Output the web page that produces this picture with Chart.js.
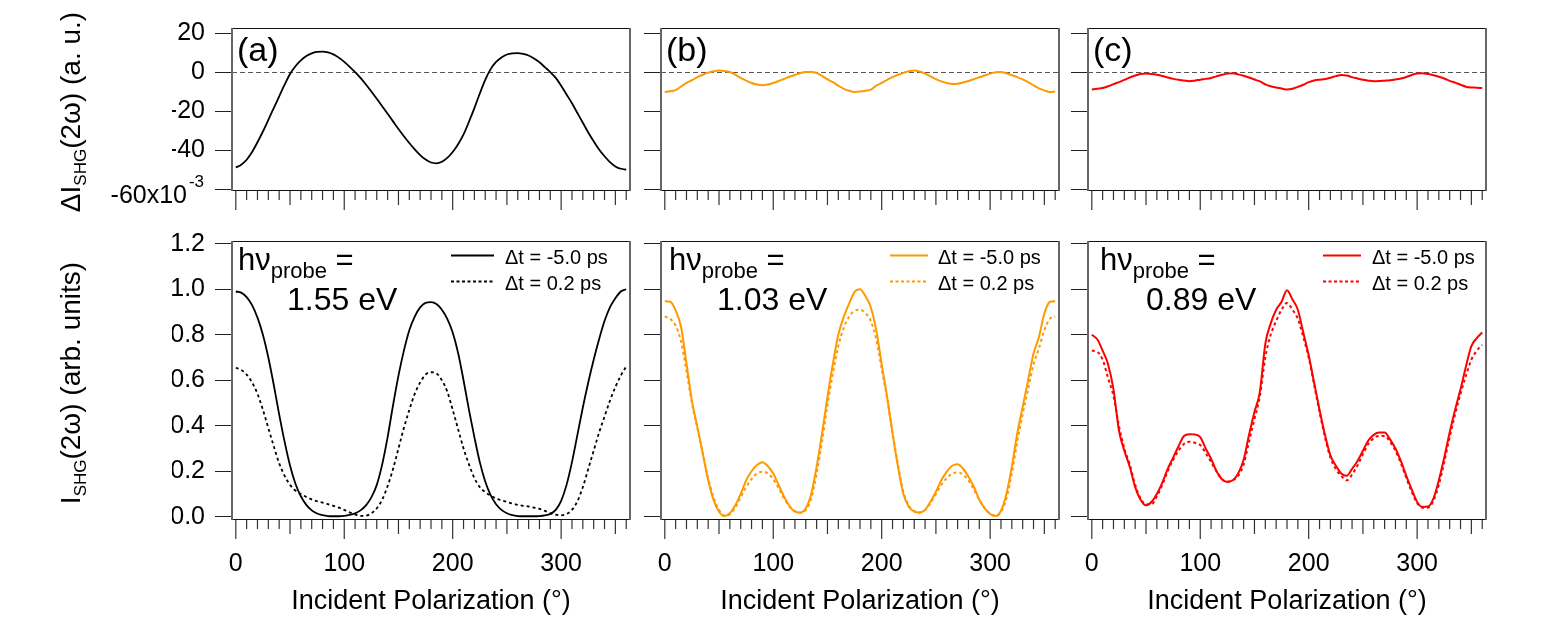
<!DOCTYPE html>
<html>
<head>
<meta charset="utf-8">
<script src="https://cdn.jsdelivr.net/npm/chart.js@4.4.0/dist/chart.umd.min.js"></script>
<style>
  html, body { margin: 0; padding: 0; background: #fff; }
  #wrap { position: relative; width: 1543px; height: 618px; background: #fff; }
  #wrap canvas { position: absolute; left: 0; top: 0; }
</style>
</head>
<body>
<div id="wrap">
  <canvas id="c00" width="1543" height="618"></canvas>
  <canvas id="c10" width="1543" height="618"></canvas>
  <canvas id="c20" width="1543" height="618"></canvas>
  <canvas id="c01" width="1543" height="618"></canvas>
  <canvas id="c11" width="1543" height="618"></canvas>
  <canvas id="c21" width="1543" height="618"></canvas>
</div>
<script>
// incident polarization angle (deg)
const angles = [0, 5, 10, 15, 20, 25, 30, 35, 40, 45, 50, 55, 60, 65, 70, 75, 80, 85, 90,
  95, 100, 105, 110, 115, 120, 125, 130, 135, 140, 145, 150, 155, 160, 165, 170, 175, 180,
  185, 190, 195, 200, 205, 210, 215, 220, 225, 230, 235, 240, 245, 250, 255, 260, 265, 270,
  275, 280, 285, 290, 295, 300, 305, 310, 315, 320, 325, 330, 335, 340, 345, 350, 355, 360];

// top row: difference signal, in units of 1e-3
const diff155 = [-49, -47.5, -45, -41, -36, -30.5, -24.5, -18.5, -12.5, -6.5, -1, 3, 6, 8.2, 9.6, 10.3, 10.5, 10.1, 9.1,
  7.4, 5.2, 2.7, 0, -3, -6.4, -10, -13.7, -17.5, -21.4, -25.3, -29.2, -32.9, -36.4, -39.7, -42.6, -44.9, -46.4,
  -46.8, -46, -44, -41, -37, -32, -25.5, -18.5, -11, -4, 1.5, 5.2, 7.5, 9, 9.6, 9.7, 9.3, 8.5,
  7, 5, 2.5, 0, -3, -7, -11.5, -16, -21, -26, -31, -35.5, -39.7, -43.2, -46.2, -48.4, -49.6, -50];
const diff103 = [-10.2, -9.8, -9.3, -7.4, -5.5, -4.2, -2.6, -1.4, -0.3, 0.4, 0.8, 0.6, 0, -1.3, -3, -4.4, -5.6, -6.4, -6.8,
  -6.4, -5.6, -4.6, -3.5, -2.4, -1.5, -0.5, 0, 0, -0.5, -2, -3.8, -5.2, -7, -8.6, -9.6, -10.2, -10,
  -9.6, -9, -7, -5.6, -4, -2.6, -1.4, -0.4, 0.4, 0.8, 0.3, -0.8, -2.2, -3.6, -4.8, -5.6, -6.1, -6,
  -5.4, -4.6, -3.6, -2.7, -1.8, -0.8, -0.1, 0, -0.6, -1.6, -2.6, -3.8, -5.2, -6.8, -8.4, -9.4, -10.2, -10];
const diff089 = [-9, -8.6, -8.2, -7.3, -6.2, -5.2, -4, -2.8, -1.8, -1, -0.8, -1, -1.4, -2, -2.8, -3.5, -4, -4.3, -4.7,
  -4.4, -3.9, -3.5, -3, -2.2, -1.4, -0.8, -0.6, -1.2, -1.9, -2.8, -3.8, -4.8, -6.3, -7.3, -7.9, -8.4, -9,
  -8.6, -7.6, -6.5, -5.2, -4.3, -3.9, -3.6, -2.9, -2.1, -1.5, -1.8, -2.6, -3.3, -4, -4.4, -4.7, -4.6, -4.4,
  -4.2, -3.8, -3.3, -2.5, -1.5, -0.7, -0.6, -1, -1.6, -2.4, -3.3, -4.5, -5.4, -6.5, -7.5, -7.9, -8, -8.2];

// bottom row: SHG intensity (arb. units), dt = -5.0 ps and dt = 0.2 ps
const shg155Before = [0.99, 0.985, 0.965, 0.93, 0.875, 0.8, 0.7, 0.58, 0.45, 0.33, 0.225, 0.145, 0.09, 0.052, 0.028, 0.014, 0.007, 0.003, 0.002,
  0.002, 0.004, 0.008, 0.015, 0.028, 0.05, 0.085, 0.14, 0.23, 0.35, 0.49, 0.62, 0.73, 0.82, 0.88, 0.92, 0.94, 0.943,
  0.935, 0.91, 0.87, 0.81, 0.72, 0.6, 0.47, 0.35, 0.24, 0.155, 0.095, 0.055, 0.03, 0.015, 0.007, 0.003, 0.002, 0.002,
  0.002, 0.003, 0.006, 0.012, 0.03, 0.07, 0.14, 0.24, 0.36, 0.48, 0.59, 0.69, 0.78, 0.86, 0.92, 0.96, 0.99, 1.0];
const shg155After = [0.655, 0.645, 0.625, 0.59, 0.54, 0.47, 0.39, 0.31, 0.235, 0.18, 0.14, 0.115, 0.1, 0.087, 0.076, 0.068, 0.062, 0.055, 0.048,
  0.04, 0.03, 0.019, 0.01, 0.004, 0.005, 0.015, 0.037, 0.075, 0.135, 0.21, 0.3, 0.39, 0.47, 0.54, 0.59, 0.625, 0.635,
  0.63, 0.6, 0.55, 0.47, 0.385, 0.3, 0.23, 0.17, 0.13, 0.108, 0.093, 0.08, 0.072, 0.065, 0.058, 0.052, 0.048, 0.045,
  0.04, 0.035, 0.026, 0.016, 0.009, 0.006, 0.012, 0.03, 0.068, 0.13, 0.21, 0.29, 0.37, 0.44, 0.51, 0.57, 0.62, 0.66];
const shg103Before = [0.947, 0.945, 0.907, 0.834, 0.673, 0.51, 0.395, 0.278, 0.16, 0.073, 0.022, 0.003, 0.015, 0.05, 0.1, 0.16, 0.2, 0.227, 0.24,
  0.222, 0.19, 0.14, 0.088, 0.047, 0.022, 0.018, 0.037, 0.1, 0.22, 0.366, 0.527, 0.673, 0.8, 0.878, 0.937, 0.988, 1.0,
  0.97, 0.92, 0.82, 0.67, 0.527, 0.366, 0.22, 0.1, 0.044, 0.022, 0.018, 0.03, 0.066, 0.11, 0.16, 0.198, 0.224, 0.231,
  0.212, 0.176, 0.132, 0.076, 0.037, 0.012, 0.003, 0.026, 0.1, 0.22, 0.366, 0.483, 0.6, 0.717, 0.79, 0.893, 0.944, 0.947];
const shg103After = [0.88, 0.87, 0.84, 0.77, 0.64, 0.5, 0.39, 0.28, 0.17, 0.085, 0.03, 0.005, 0.01, 0.04, 0.085, 0.13, 0.165, 0.19, 0.198,
  0.19, 0.165, 0.125, 0.08, 0.045, 0.025, 0.018, 0.03, 0.08, 0.19, 0.33, 0.49, 0.63, 0.75, 0.83, 0.88, 0.905, 0.91,
  0.895, 0.86, 0.78, 0.65, 0.52, 0.37, 0.23, 0.11, 0.05, 0.025, 0.02, 0.03, 0.06, 0.1, 0.14, 0.17, 0.19, 0.195,
  0.185, 0.16, 0.12, 0.075, 0.038, 0.014, 0.005, 0.02, 0.08, 0.19, 0.33, 0.45, 0.56, 0.67, 0.74, 0.82, 0.87, 0.88];
const shg089Before = [0.8, 0.78, 0.73, 0.67, 0.56, 0.38, 0.29, 0.22, 0.13, 0.075, 0.05, 0.065, 0.1, 0.15, 0.21, 0.26, 0.31, 0.355, 0.363,
  0.362, 0.35, 0.3, 0.255, 0.2, 0.165, 0.153, 0.16, 0.19, 0.25, 0.36, 0.46, 0.55, 0.76, 0.85, 0.91, 0.945, 0.995,
  0.955, 0.91, 0.81, 0.71, 0.59, 0.47, 0.36, 0.27, 0.225, 0.19, 0.18, 0.21, 0.245, 0.29, 0.335, 0.36, 0.37, 0.37,
  0.34, 0.3, 0.245, 0.18, 0.12, 0.065, 0.043, 0.045, 0.08, 0.16, 0.26, 0.37, 0.47, 0.56, 0.66, 0.75, 0.785, 0.81];
const shg089After = [0.73, 0.725, 0.69, 0.61, 0.53, 0.4, 0.3, 0.23, 0.14, 0.08, 0.055, 0.055, 0.09, 0.14, 0.2, 0.25, 0.29, 0.32, 0.33,
  0.325, 0.315, 0.28, 0.24, 0.2, 0.165, 0.155, 0.16, 0.18, 0.23, 0.33, 0.43, 0.53, 0.7, 0.8, 0.86, 0.91, 0.94,
  0.91, 0.87, 0.79, 0.7, 0.58, 0.46, 0.35, 0.26, 0.21, 0.18, 0.16, 0.185, 0.225, 0.275, 0.32, 0.345, 0.355, 0.355,
  0.33, 0.29, 0.235, 0.17, 0.11, 0.06, 0.04, 0.04, 0.07, 0.14, 0.24, 0.35, 0.45, 0.54, 0.62, 0.69, 0.73, 0.755];

// axis ticks
const xTicks = [0, 10, 20, 30, 40, 50, 60, 70, 80, 90, 100, 110, 120, 130, 140, 150, 160, 170, 180,
  190, 200, 210, 220, 230, 240, 250, 260, 270, 280, 290, 300, 310, 320, 330, 340, 350, 360];
const xLabelled = [0, 100, 200, 300];
const yTicksDiff = [20, 0, -20, -40, -60];
const yTicksShg = [0, 0.2, 0.4, 0.6, 0.8, 1.0, 1.2];

const panelLetters = ['(a)', '(b)', '(c)'];
const probeEnergies = ['1.55 eV', '1.03 eV', '0.89 eV'];
const delayLabels = ['\u0394t = -5.0 ps', '\u0394t = 0.2 ps'];
const lineColors = ['#000000', '#FF9900', '#FF0000'];

const diffSeries = [diff155, diff103, diff089];
const shgSeries = [[shg155Before, shg155After], [shg103Before, shg103After], [shg089Before, shg089After]];

[diff155, diff103, diff089, shg155Before, shg155After, shg103Before, shg103After, shg089Before, shg089After]
  .forEach((s, i) => { if (s.length !== angles.length) throw new Error('series ' + i + ' has ' + s.length); });

// layout
const FONT = "'Liberation Sans', Arial, Helvetica, sans-serif";
const W = 1543, H = 618;
const FRAME_X = [[232, 630], [661, 1059], [1088, 1486]];
const FRAME_Y = [[28, 190], [241, 519]];
const Y_AXIS_W = 60;
const X_AXIS_H = [40, 99];
const legendX = [[219, 262, 273], [229, 267, 277], [235, 273, 284]];
const hvX = [6, 8, 12];
const evX = [55, 56, 58];

function pts(ys) { return angles.map((a, i) => ({ x: a, y: ys[i] })); }

function drawRich(ctx, parts, x, y) {
  let cx = x;
  parts.forEach(([t, size, dy]) => {
    ctx.font = size + 'px ' + FONT;
    ctx.fillText(t, cx, y + dy);
    cx += ctx.measureText(t).width;
  });
  return cx - x;
}
function richWidth(ctx, parts) {
  let w = 0;
  parts.forEach(([t, size]) => { ctx.font = size + 'px ' + FONT; w += ctx.measureText(t).width; });
  return w;
}

function makeDecor(col, row) {
  return {
    id: 'decor',
    beforeDatasetsDraw(chart) {
      if (row !== 0) return;
      const { ctx, chartArea: a, scales: { y } } = chart;
      const py = Math.round(y.getPixelForValue(0)) + 0.5;
      ctx.save();
      ctx.strokeStyle = '#555';
      ctx.lineWidth = 1.2;
      ctx.setLineDash([5, 3]);
      ctx.beginPath();
      ctx.moveTo(a.left, py);
      ctx.lineTo(a.right, py);
      ctx.stroke();
      ctx.restore();
    },
    afterDraw(chart) {
      const { ctx, chartArea: a, scales: { x, y } } = chart;
      ctx.save();
      // frame
      ctx.fillStyle = '#111';
      ctx.fillRect(a.left, a.top, a.right - a.left, 1);
      ctx.fillRect(a.left, a.bottom, a.right - a.left + 1, 1);
      ctx.fillStyle = '#666';
      ctx.fillRect(a.left - 1, a.top, 2, a.bottom - a.top + 1);
      ctx.fillRect(a.right - 1, a.top, 2, a.bottom - a.top + 1);
      // x tick marks: 100s long, 50s medium, 10s short
      ctx.strokeStyle = '#333';
      ctx.lineWidth = 1.2;
      xTicks.forEach(v => {
        const px = x.getPixelForValue(v);
        const len = v % 100 === 0 ? 19 : (v % 50 === 0 ? 14 : 9);
        ctx.beginPath();
        ctx.moveTo(px, a.bottom + 1);
        ctx.lineTo(px, a.bottom + 1 + len);
        ctx.stroke();
      });
      ctx.fillStyle = '#000';
      ctx.textBaseline = 'alphabetic';
      ctx.textAlign = 'left';
      if (row === 0) {
        ctx.font = '34px ' + FONT;
        ctx.fillText(panelLetters[col], a.left + 5, 61);
        if (col === 0) {
          // bottom label with exponent
          ctx.textAlign = 'right';
          ctx.font = '25px ' + FONT;
          ctx.fillText('-60x10', 187, 203);
          ctx.font = '17px ' + FONT;
          ctx.fillText('-3', 204, 187);
          ctx.textAlign = 'left';
          const parts = [['\u0394I', 28, 0], ['SHG', 17, 6], ['(2\u03c9) (a. u.)', 28, 0]];
          ctx.save();
          ctx.translate(80, 112);
          ctx.rotate(-Math.PI / 2);
          drawRich(ctx, parts, -richWidth(ctx, parts) / 2, 0);
          ctx.restore();
        }
      } else {
        drawRich(ctx, [['h\u03bd', 31, 0], ['probe', 22, 8], [' =', 31, 0]], a.left + hvX[col], 270);
        ctx.font = '32px ' + FONT;
        ctx.fillText(probeEnergies[col], a.left + evX[col], 310);
        // legend
        const lx = legendX[col];
        ctx.strokeStyle = lineColors[col];
        ctx.lineWidth = 2;
        ctx.beginPath();
        ctx.moveTo(a.left + lx[0], 255.5);
        ctx.lineTo(a.left + lx[1], 255.5);
        ctx.stroke();
        ctx.setLineDash([3, 2.5]);
        ctx.beginPath();
        ctx.moveTo(a.left + lx[0], 281.5);
        ctx.lineTo(a.left + lx[1], 281.5);
        ctx.stroke();
        ctx.setLineDash([]);
        ctx.font = '20px ' + FONT;
        ctx.fillText(delayLabels[0], a.left + lx[2], 264);
        ctx.fillText(delayLabels[1], a.left + lx[2], 290);
        if (col === 0) {
          const parts = [['I', 28, 0], ['SHG', 17, 6], ['(2\u03c9) (arb. units)', 28, 0]];
          ctx.save();
          ctx.translate(80, 383);
          ctx.rotate(-Math.PI / 2);
          drawRich(ctx, parts, -richWidth(ctx, parts) / 2, 0);
          ctx.restore();
        }
      }
      ctx.restore();
    }
  };
}

function makePanel(col, row) {
  const fx = FRAME_X[col], fy = FRAME_Y[row];
  const isTop = row === 0;
  const color = lineColors[col];
  const w = col === 0 ? 1.8 : 2;
  const datasets = isTop
    ? [{ data: pts(diffSeries[col]), borderColor: color, borderWidth: w }]
    : [
        { data: pts(shgSeries[col][0]), borderColor: color, borderWidth: w },
        { data: pts(shgSeries[col][1]), borderColor: color, borderWidth: w, borderDash: [3, 3] }
      ];
  datasets.forEach(d => { d.pointRadius = 0; d.fill = false; d.cubicInterpolationMode = 'monotone'; });

  new Chart(document.getElementById('c' + col + row), {
    type: 'line',
    data: { datasets },
    options: {
      responsive: false,
      animation: false,
      events: [],
      layout: {
        padding: {
          left: fx[0] - Y_AXIS_W,
          right: W - fx[1],
          top: fy[0],
          bottom: H - fy[1] - X_AXIS_H[row]
        }
      },
      plugins: { legend: { display: false }, tooltip: { enabled: false } },
      scales: {
        x: {
          type: 'linear',
          min: -3.5,
          max: 363.5,
          afterBuildTicks: s => { s.ticks = xTicks.map(v => ({ value: v })); },
          afterFit: s => { s.height = X_AXIS_H[row]; },
          grid: { display: false, drawTicks: false },
          border: { display: false },
          ticks: {
            autoSkip: false,
            maxRotation: 0,
            padding: 30,
            color: '#000',
            font: { family: FONT, size: 25 },
            callback: v => (!isTop && xLabelled.includes(v)) ? String(v) : ''
          },
          title: {
            display: !isTop,
            text: 'Incident Polarization (\u00b0)',
            color: '#000',
            font: { family: FONT, size: 27 },
            padding: { top: 0, bottom: 0 }
          }
        },
        y: {
          min: isTop ? -60.5 : -0.01,
          max: isTop ? 22.6 : 1.212,
          afterBuildTicks: s => { s.ticks = (isTop ? yTicksDiff : yTicksShg).map(v => ({ value: v })); },
          afterFit: s => { s.width = Y_AXIS_W; },
          grid: { drawOnChartArea: false, drawTicks: true, tickLength: 17, color: '#222', tickColor: '#222', lineWidth: 1 },
          border: { display: false },
          ticks: {
            padding: 10,
            color: '#000',
            font: { family: FONT, size: 25 },
            callback: v => {
              if (col !== 0) return '';
              if (isTop) return v === -60 ? '' : String(v);
              return v.toFixed(1);
            }
          }
        }
      }
    },
    plugins: [makeDecor(col, row)]
  });
}

[0, 1, 2].forEach(c => { makePanel(c, 0); makePanel(c, 1); });
</script>
</body>
</html>
